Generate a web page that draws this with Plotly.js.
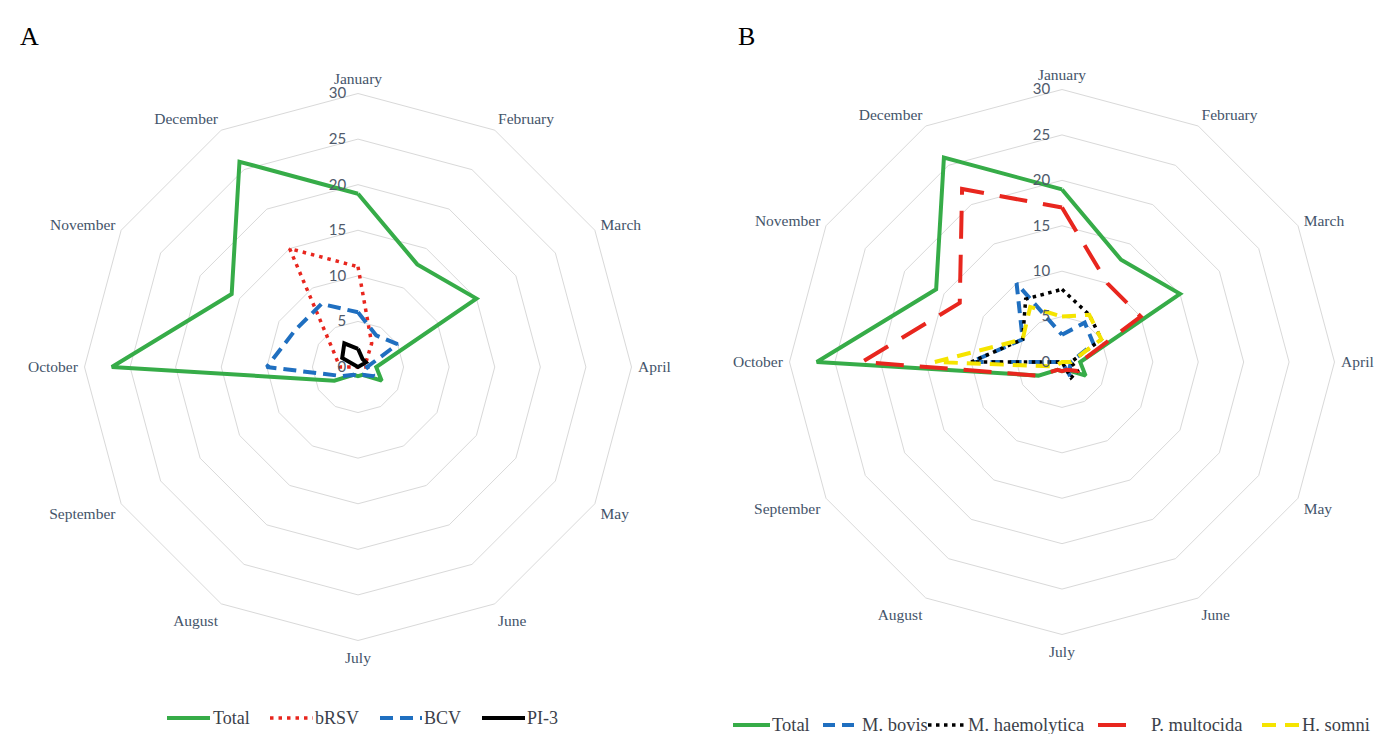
<!DOCTYPE html>
<html>
<head>
<meta charset="utf-8">
<script src="https://cdn.plot.ly/plotly-3.0.1.min.js"></script>
<style>html,body{margin:0;padding:0;background:#fff;}#chart{width:1388px;height:734px;}</style>
</head>
<body>
<div id="chart"></div>
<script>
const months = ['January','February','March','April','May','June','July','August','September','October','November','December'];
const radialTicks = [0,5,10,15,20,25,30];

// Panel A
const totalA = [19,13,15,2,3,1,1,1,3,27,16,26];
const bRSV   = [11,3,1,1,0,0,0,0,0,2,3,15];
const BCV    = [6,4,5,1,2,1,1,1,2,10,8,8];
const PI3    = [2,1,1,0,0,0,0,0,0,0,2,3];

// Panel B
const totalB = [19,13,15,2,3,1,1,1,3,27,16,26];
const mBovis = [3,5,4,1,1,2,0,0,0,10,5,10];
const mHaem  = [8,6,5,1,2,2,0,0,0,10,5,8];
const pMult  = [17,10,10,2,2,1,1,1,3,22,13,22];
const hSomni = [5,6,5,1,0,0,0,0,1,14,5,7];

const SERIF = 'Liberation Serif, Times New Roman, serif';

function closed(a){ return a.concat([a[0]]); }
const thetaC = closed(months);

const styles = {
  total: {color:'#36ac48', width:4, dash:'solid'},
  bRSV:  {color:'#e8261e', width:3.5, dash:'3.5px,5px'},
  BCV:   {color:'#1f6fc0', width:4, dash:'13px,7px'},
  PI3:   {color:'#000000', width:4, dash:'solid'},
  bovis: {color:'#1f6fc0', width:4, dash:'12px,7px'},
  haem:  {color:'#000000', width:3.5, dash:'3.5px,4.5px'},
  mult:  {color:'#e8261e', width:4, dash:'28px,16px'},
  somni: {color:'#f5e400', width:4, dash:'14px,9px'}
};

function tr(name, vals, st, subplot){
  return {type:'scatterpolar', mode:'lines', name:name, r:closed(vals), theta:thetaC,
    line:st, subplot:subplot, showlegend:false, hoverinfo:'skip'};
}

const data = [
  tr('Total', totalA, styles.total, 'polar'),
  tr('bRSV', bRSV, styles.bRSV, 'polar'),
  tr('BCV', BCV, styles.BCV, 'polar'),
  tr('PI-3', PI3, styles.PI3, 'polar'),
  tr('Total', totalB, styles.total, 'polar2'),
  tr('M. bovis', mBovis, styles.bovis, 'polar2'),
  tr('M. haemolytica', mHaem, styles.haem, 'polar2'),
  tr('P. multocida', pMult, styles.mult, 'polar2'),
  tr('H. somni', hSomni, styles.somni, 'polar2')
];

function polarCfg(xd, yd){
  return {
    domain:{x:xd, y:yd},
    gridshape:'linear',
    bgcolor:'rgba(0,0,0,0)',
    angularaxis:{type:'category', categoryarray:months, rotation:90, direction:'clockwise',
      showgrid:false, showline:true, linecolor:'#d9d9d9', linewidth:1,
      ticks:'outside', ticklen:3, tickcolor:'rgba(0,0,0,0)',
      tickfont:{family:SERIF, size:15.5, color:'#44546a'}},
    radialaxis:{range:[0,30], tickvals:radialTicks, angle:90, side:'counterclockwise',
      tickangle:90, showline:false, ticks:'outside', ticklen:6, tickcolor:'rgba(0,0,0,0)',
      gridcolor:'#d9d9d9', gridwidth:1,
      tickfont:{family:'Lato, Liberation Sans, sans-serif', size:15, color:'#505a6b'}}
  };
}

// custom legends: [label, style, lineStart, lineEnd, textStart]
const legendA = [
  ['Total', styles.total, 167, 210, 212],
  ['bRSV',  styles.bRSV, 270, 313, 314],
  ['BCV',   styles.BCV, 380, 422, 423],
  ['PI-3',  styles.PI3, 482, 525, 526]
];
const legendB = [
  ['Total', styles.total, 733, 770, 771],
  ['M. bovis', styles.bovis, 823, 860, 861],
  ['M. haemolytica', styles.haem, 928, 966, 967],
  ['P. multocida', styles.mult, 1098, 1136, 1150],
  ['H. somni', styles.somni, 1262, 1300, 1301]
];

const shapes = [], annotations = [];
function addLegend(items, yPx, fs){
  const y = 1 - yPx/734;
  items.forEach(function(it){
    shapes.push({type:'line', xref:'paper', yref:'paper', x0:it[2]/1388, x1:it[3]/1388, y0:y, y1:y,
      line:{color:it[1].color, width:it[1].width, dash:it[1].dash}});
    annotations.push({text:it[0], xref:'paper', yref:'paper', x:it[4]/1388, y:y, xanchor:'left', yanchor:'middle',
      showarrow:false, borderpad:0, font:{family:SERIF, size:fs, color:'#3b3f4a'}});
  });
}
addLegend(legendA, 718, 18);
addLegend(legendB, 725, 18.5);

annotations.push({text:'A', x:18/1388, y:1-20/734, xref:'paper', yref:'paper', showarrow:false,
  font:{family:SERIF, size:26, color:'#000'}});
annotations.push({text:'B', x:746/1388, y:1-20/734, xref:'paper', yref:'paper', showarrow:false,
  font:{family:SERIF, size:26, color:'#000'}});

const layout = {
  width:1388, height:734,
  margin:{l:0, r:0, t:0, b:0},
  paper_bgcolor:'#ffffff',
  showlegend:false,
  polar: polarCfg([(358-273.5)/1388, (358+273.5)/1388], [(367-273.5)/734, (367+273.5)/734]),
  polar2: polarCfg([(1062-272.5)/1388, (1062+272.5)/1388], [(372-272.5)/734, (372+272.5)/734]),
  shapes: shapes,
  annotations: annotations
};

Plotly.newPlot('chart', data, layout, {staticPlot:true, displayModeBar:false});
</script>
</body>
</html>
